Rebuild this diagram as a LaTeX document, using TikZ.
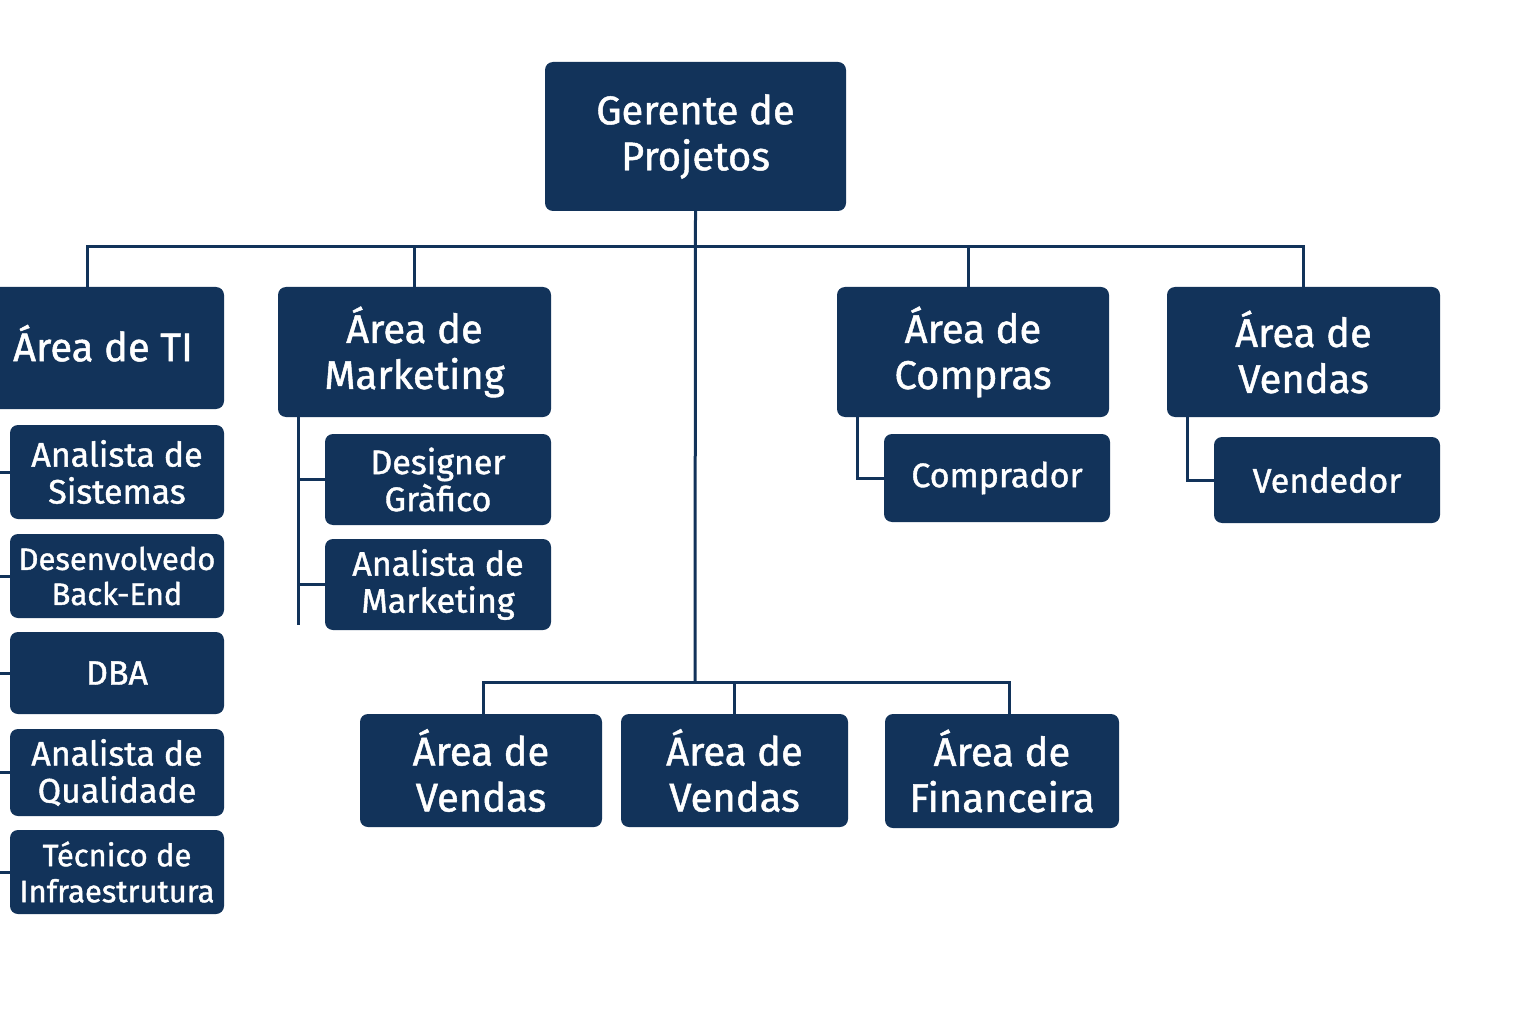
\documentclass[tikz,border=0pt]{standalone}
\usepackage{fontspec}
\setmainfont{Fira Sans}[FakeBold=1.2]
\definecolor{navy}{HTML}{12335A}
\tikzset{
  unit/.style={fill=navy, rounded corners=8pt, text=white, align=center, inner sep=0pt, font=\fontsize{40}{46}\selectfont},
  role/.style={unit, font=\fontsize{34}{37}\selectfont},
  link/.style={draw=navy, line width=3pt},
}

\begin{document}
\begin{tikzpicture}[x=1pt, y=-1pt]
\useasboundingbox (0,0) rectangle (1536,1024);

\node[unit, minimum width=301, minimum height=149] (gerente) at (695.5,136.5) {Gerente de\\Projetos};

\node[unit, minimum width=242, minimum height=122, text depth=10pt] (ti) at (103,348) {Área de TI};
\node[unit, minimum width=273, minimum height=130] (marketing) at (414.5,352) {Área de\\Marketing};
\node[unit, minimum width=272, minimum height=130] (compras) at (973,352) {Área de\\Compras};
\node[unit, minimum width=273, minimum height=130] (vendas) at (1303.5,352) {Área de\\Vendas};

\node[role, minimum width=214, minimum height=94] (sistemas) at (117,472) {Analista de\\Sistemas};
\node[role, minimum width=214, minimum height=84, font=\fontsize{31}{35}\selectfont] (backend) at (117,576) {Desenvolvedo\\Back-End};
\node[role, minimum width=214, minimum height=82] (dba) at (117,673) {DBA};
\node[role, minimum width=214, minimum height=87] (qualidade) at (117,772.5) {Analista de\\Qualidade};
\node[role, minimum width=214, minimum height=84, font=\fontsize{31}{36}\selectfont] (infra) at (117,872) {Técnico de\\Infraestrutura};

\node[role, minimum width=226, minimum height=91] (designer) at (438,479.5) {Designer\\Gràfico};
\node[role, minimum width=226, minimum height=91] (analistamkt) at (438,584.5) {Analista de\\Marketing};

\node[role, minimum width=226, minimum height=88] (comprador) at (997,478) {Comprador};
\node[role, minimum width=226, minimum height=86] (vendedor) at (1327,480) {Vendedor};

\node[unit, minimum width=242, minimum height=113] (vendasA) at (481,770.5) {Área de\\Vendas};
\node[unit, minimum width=227, minimum height=113] (vendasB) at (734.5,770.5) {Área de\\Vendas};
\node[unit, minimum width=234, minimum height=114] (financeira) at (1002,771) {Área de\\Financeira};

\coordinate (topbus) at (695,247);
\coordinate (lowbus) at (695,683);
\coordinate (tibus) at (-6,409);
\coordinate (mktbus) at ([xshift=21pt]marketing.south west);

% upper level
\draw[link] (gerente.south) -- (lowbus);
\draw[link] ([xshift=-16pt]ti.north) -- ++(0,-40) -| (vendas.north);
\draw[link] (marketing.north) -- (marketing.north |- topbus);
\draw[link] ([xshift=-5pt]compras.north) -- ([xshift=-5pt]compras.north |- topbus);

% lower level
\draw[link] ([xshift=2pt]vendasA.north) -- ++(0,-31) -| ([xshift=7pt]financeira.north);
\draw[link] (vendasB.north) -- (vendasB.north |- lowbus);

% teams
\draw[link] (tibus) -- ++(0,470);
\foreach \n in {sistemas, backend, dba, qualidade, infra}
  \draw[link] (\n.west) -- (\n.west -| tibus);
\draw[link] (mktbus) -- ++(0,208);
\foreach \n in {designer, analistamkt}
  \draw[link] (\n.west) -- (\n.west -| mktbus);
\draw[link] ([xshift=21pt]compras.south west) |- (comprador.west);
\draw[link] ([xshift=21pt]vendas.south west) |- (vendedor.west);
\end{tikzpicture}
\end{document}
